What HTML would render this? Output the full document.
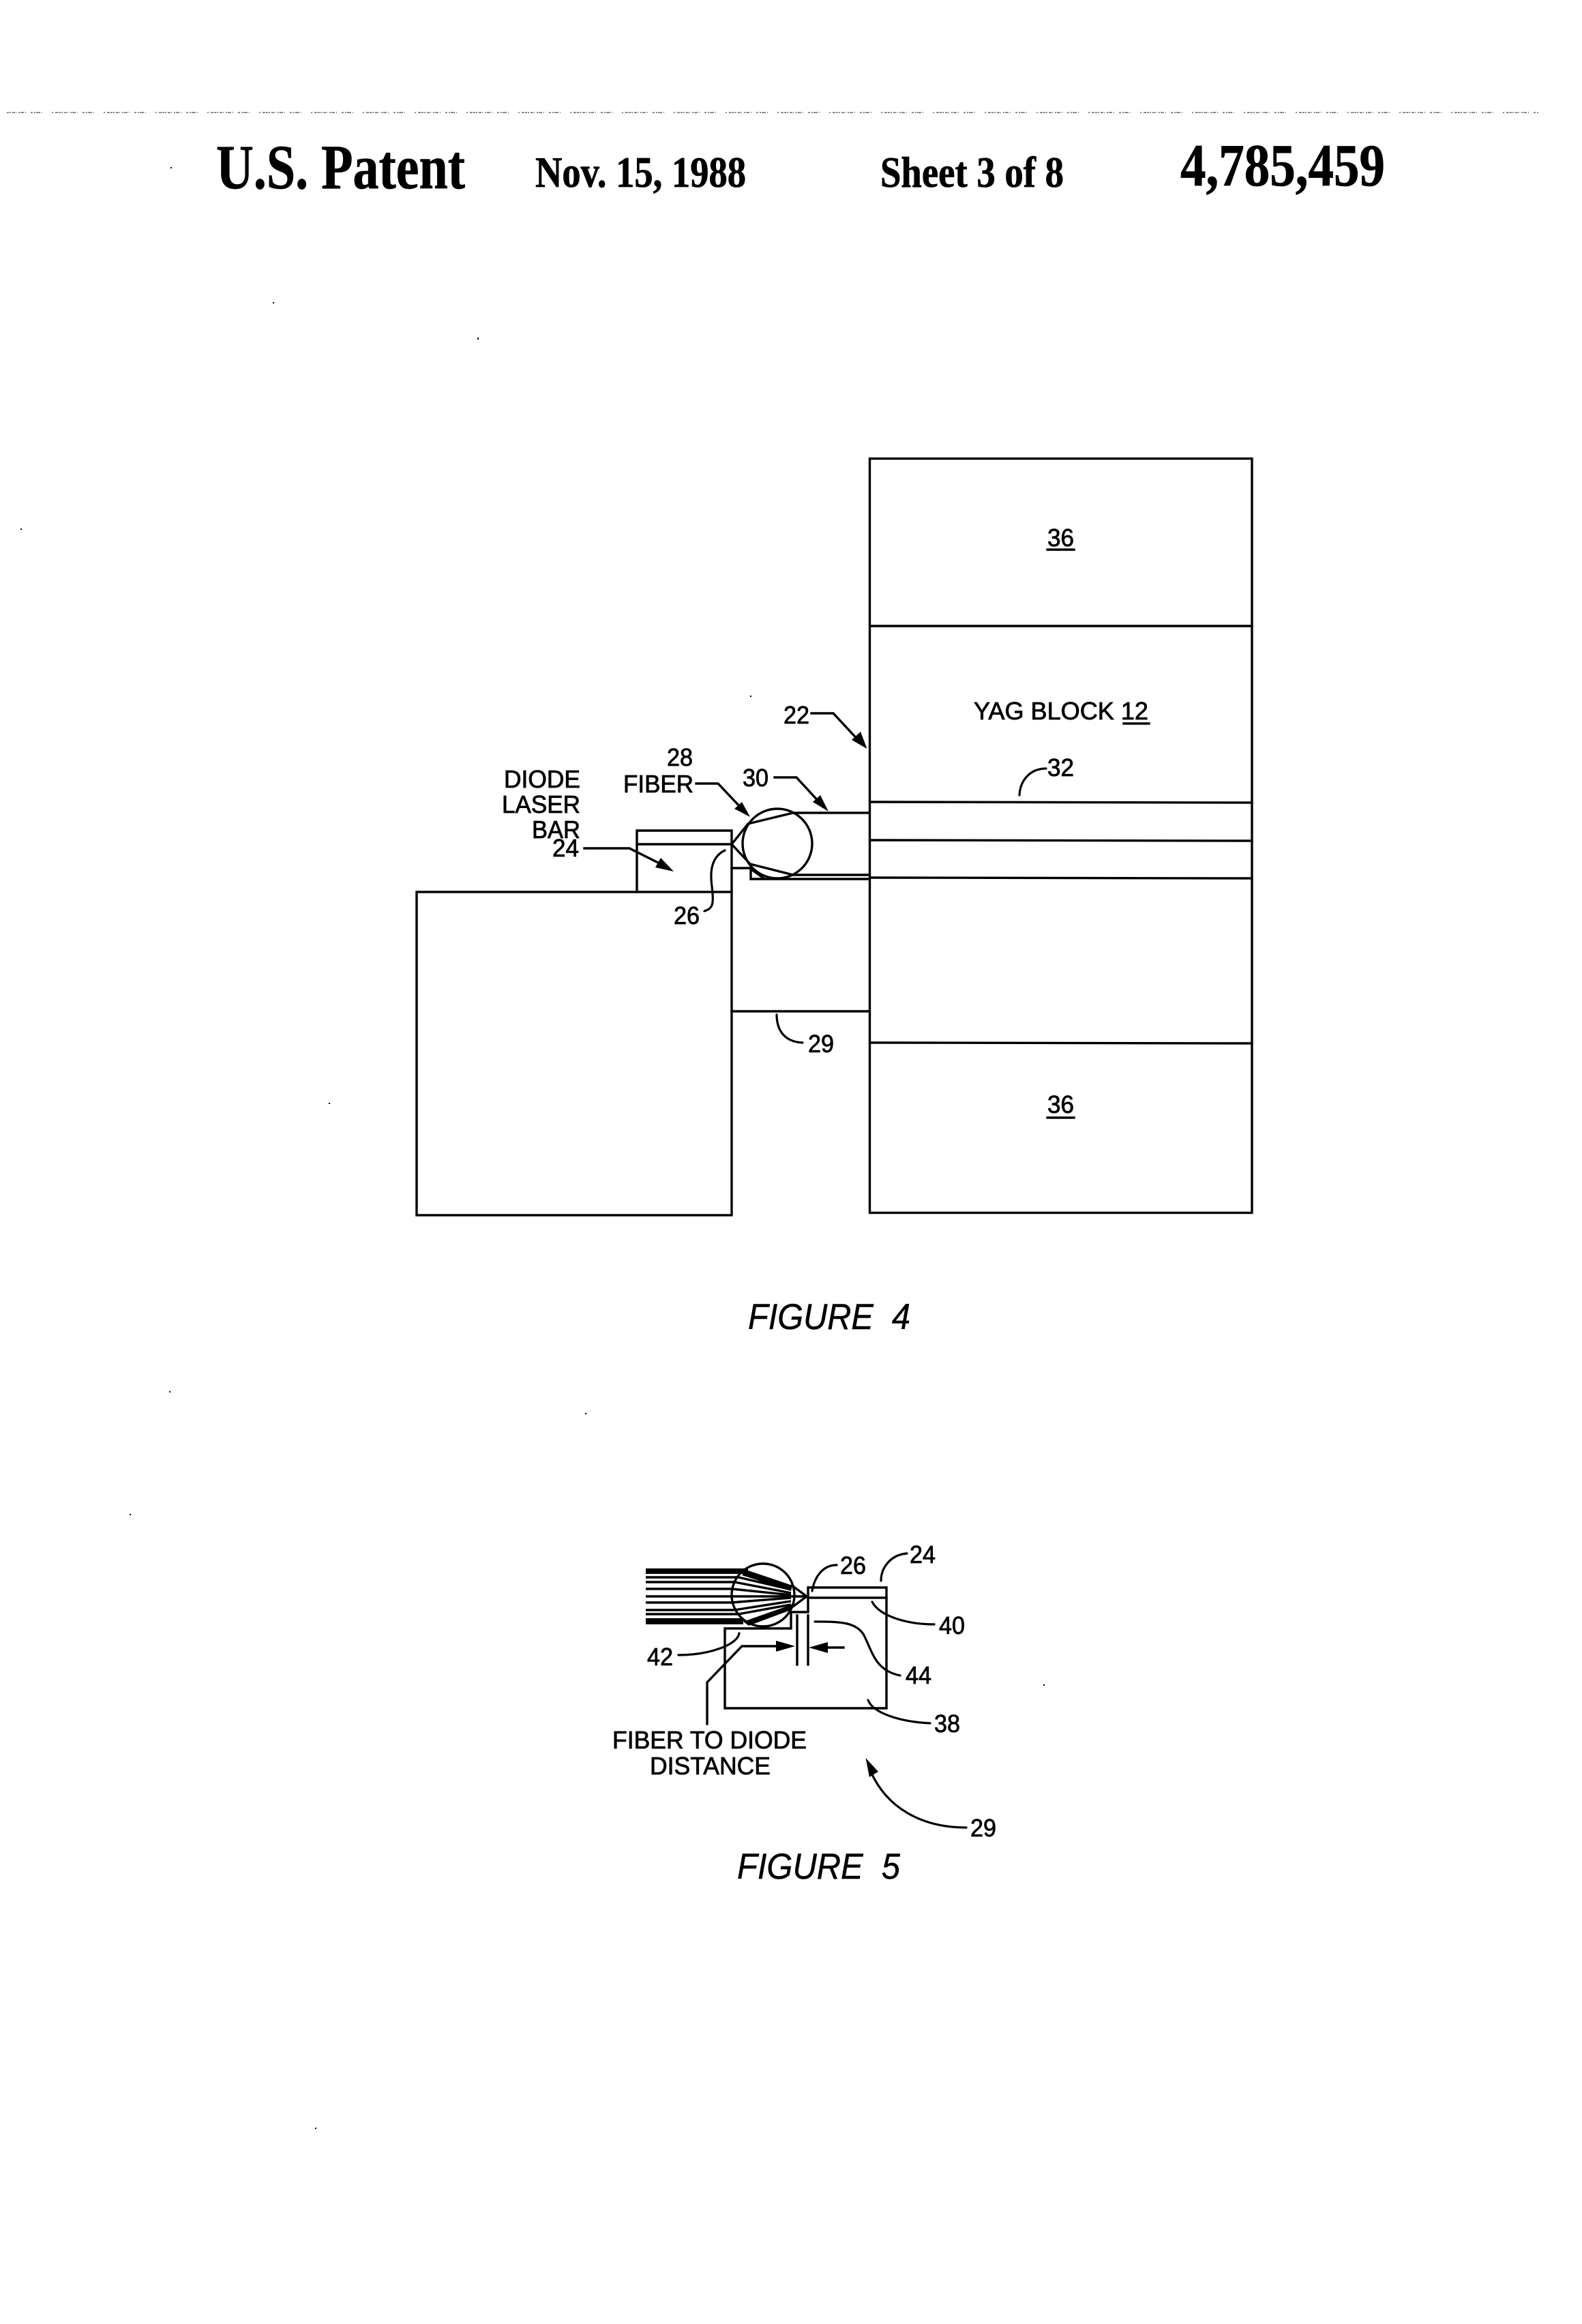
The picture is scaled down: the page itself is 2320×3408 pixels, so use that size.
<!DOCTYPE html>
<html><head><meta charset="utf-8">
<style>
html,body{margin:0;padding:0;background:#fff;width:2320px;height:3408px;overflow:hidden}
svg{display:block}
.s{font-family:"Liberation Sans",sans-serif;font-size:36px;fill:#000;stroke:#000;stroke-width:.8px}
.t{font-family:"Liberation Serif",serif;font-weight:bold;fill:#000;stroke:#000;stroke-width:.8px}
.i{font-family:"Liberation Sans",sans-serif;font-style:italic;font-size:53px;fill:#000;stroke:#000;stroke-width:.5px}
.l{fill:none;stroke:#000;stroke-width:3.4;stroke-linecap:square}
.c{fill:none;stroke:#000;stroke-width:3.2;stroke-linecap:round}
.a{fill:#000;stroke:none}
</style></head><body>
<svg width="2320" height="3408" viewBox="0 0 2320 3408" xmlns="http://www.w3.org/2000/svg">
<rect width="2320" height="3408" fill="#fff"/>
<!-- scan line -->
<line x1="10" y1="165" x2="2256" y2="165" stroke="#000" stroke-width="1.4" stroke-dasharray="3 1 2 2 4 1 1 3 2 1 5 2 1 7 3 2 2 1 6 2 1 14 2 3 4 1" opacity=".6"/>
<!-- header -->
<text class="t" x="317" y="276" font-size="92" textLength="365" lengthAdjust="spacingAndGlyphs">U.S. Patent</text>
<text class="t" x="785" y="274" font-size="64" textLength="309" lengthAdjust="spacingAndGlyphs">Nov. 15, 1988</text>
<text class="t" x="1291" y="274" font-size="64" textLength="269" lengthAdjust="spacingAndGlyphs">Sheet 3 of 8</text>
<text class="t" x="1731" y="272" font-size="88" textLength="300" lengthAdjust="spacingAndGlyphs">4,785,459</text>

<!-- FIGURE 4 -->
<g class="l">
<rect x="1275.5" y="672.5" width="560.5" height="1106"/>
<line x1="1276" y1="918" x2="1836" y2="918"/>
<line x1="1276" y1="1176" x2="1836" y2="1177"/>
<line x1="1276" y1="1232" x2="1836" y2="1233"/>
<line x1="1276" y1="1287" x2="1836" y2="1288"/>
<line x1="1276" y1="1529" x2="1836" y2="1530"/>
<rect x="611" y="1308" width="462" height="474"/>
<polyline points="934,1308 934,1218 1073,1218 1073,1308"/>
<line x1="934" y1="1238" x2="1073" y2="1238"/>
<line x1="1073" y1="1483" x2="1275" y2="1483"/>
<line x1="1163" y1="1192" x2="1275" y2="1192"/>
<line x1="1163" y1="1283" x2="1275" y2="1283"/>
<polyline points="1073,1273 1101,1273 1101,1289 1275,1289"/>
<circle cx="1140" cy="1237" r="51"/>
<polyline points="1073,1238 1097,1208 1163,1192"/>
<polyline points="1073,1238 1100,1267 1163,1283"/>
<line x1="1102" y1="1275" x2="1120" y2="1288"/>
</g>
<!-- leader arrows fig 4 -->
<polyline class="l" points="1190,1046 1222,1046 1262,1089"/>
<polygon class="a" points="1271.5,1098 1249,1085 1262,1073"/>
<polyline class="l" points="1021,1149 1053,1149 1088,1186"/>
<polygon class="a" points="1100,1198 1077,1186 1088,1176"/>
<polyline class="l" points="1136,1140 1168,1140 1203,1178"/>
<polygon class="a" points="1215,1190 1192,1176 1203,1166"/>
<polyline class="l" points="857,1244 923,1244 975,1270"/>
<polygon class="a" points="988,1278 961,1272 969,1258"/>
<path class="c" d="M1063,1247 C1040,1258 1042,1285 1044,1300 C1047,1325 1046,1332 1033,1336"/>
<path class="c" d="M1139,1488 C1139,1510 1150,1528 1177,1529"/>
<path class="c" d="M1534,1127 C1510,1127 1496,1145 1495,1166"/>

<g class="s">
<text x="1149" y="1061" textLength="38" lengthAdjust="spacingAndGlyphs">22</text>
<text x="978" y="1123" textLength="38" lengthAdjust="spacingAndGlyphs">28</text>
<text x="914" y="1162" textLength="103" lengthAdjust="spacingAndGlyphs">FIBER</text>
<text x="1089" y="1153" textLength="38" lengthAdjust="spacingAndGlyphs">30</text>
<text x="739" y="1155" textLength="112" lengthAdjust="spacingAndGlyphs">DIODE</text>
<text x="736" y="1192" textLength="115" lengthAdjust="spacingAndGlyphs">LASER</text>
<text x="780" y="1229" textLength="71" lengthAdjust="spacingAndGlyphs">BAR</text>
<text x="810" y="1256" textLength="39" lengthAdjust="spacingAndGlyphs">24</text>
<text x="988" y="1355" textLength="38" lengthAdjust="spacingAndGlyphs">26</text>
<text x="1185" y="1543" textLength="38" lengthAdjust="spacingAndGlyphs">29</text>
<text x="1428" y="1055" textLength="256" lengthAdjust="spacingAndGlyphs">YAG BLOCK 12</text>
<text x="1536" y="1138" textLength="39" lengthAdjust="spacingAndGlyphs">32</text>
<text x="1536" y="801" textLength="39" lengthAdjust="spacingAndGlyphs">36</text>
<text x="1536" y="1632" textLength="39" lengthAdjust="spacingAndGlyphs">36</text>
</g>
<g class="l">
<line x1="1648" y1="1061" x2="1685" y2="1061"/>
<line x1="1536" y1="806" x2="1575" y2="806"/>
<line x1="1536" y1="1639" x2="1575" y2="1639"/>
</g>
<text class="i" x="1097" y="1949" textLength="238" lengthAdjust="spacingAndGlyphs">FIGURE&#160;&#160;4</text>

<!-- FIGURE 5 -->
<g class="l">
<polyline points="1185,2343 1185,2328 1300,2328 1300,2505 1063,2505 1063,2388 1160,2388 1160,2364 1185,2364 1185,2343"/>
<line x1="1185" y1="2343" x2="1300" y2="2343"/>
<line x1="1169" y1="2369" x2="1169" y2="2441"/>
<line x1="1185" y1="2369" x2="1185" y2="2441"/>
</g>
<circle class="l" cx="1119" cy="2339" r="46"/>
<!-- beams -->
<g stroke="#000" stroke-width="3.4" fill="none">
<rect x="947" y="2300" width="150" height="8" fill="#000" stroke="none"/>
<rect x="947" y="2373" width="143" height="9" fill="#000" stroke="none"/>
<line x1="947" y1="2313" x2="1083" y2="2313"/>
<line x1="947" y1="2320" x2="1077" y2="2320"/>
<line x1="947" y1="2330" x2="1073" y2="2330"/>
<line x1="947" y1="2341" x2="1183" y2="2341"/>
<line x1="947" y1="2350" x2="1073" y2="2350"/>
<line x1="947" y1="2361" x2="1077" y2="2361"/>
<line x1="947" y1="2367" x2="1083" y2="2367"/>
<line x1="1083" y1="2313" x2="1160" y2="2331"/>
<line x1="1077" y1="2320" x2="1160" y2="2336"/>
<line x1="1073" y1="2330" x2="1160" y2="2339"/>
<line x1="1073" y1="2350" x2="1160" y2="2343"/>
<line x1="1077" y1="2361" x2="1160" y2="2348"/>
<line x1="1083" y1="2367" x2="1160" y2="2353"/>
<line x1="1160" y1="2324" x2="1183" y2="2341"/>
<line x1="1183" y1="2341" x2="1160" y2="2358"/>
</g>
<polygon class="a" points="1094,2302 1162,2325 1160,2333 1088,2310"/>
<polygon class="a" points="1090,2378 1161,2353 1160,2361 1098,2384"/>
<!-- fig 5 leaders -->
<polyline class="l" points="1037,2528 1037,2467 1088,2414 1145,2414"/>
<polygon class="a" points="1166,2414 1138,2406 1138,2422"/>
<line class="l" x1="1237" y1="2416" x2="1205" y2="2416"/>
<polygon class="a" points="1186,2416 1214,2408 1214,2424"/>
<path class="c" d="M1227,2295 C1205,2295 1194,2315 1191,2333"/>
<path class="c" d="M1330,2278 C1305,2280 1292,2300 1292,2318"/>
<path class="c" d="M1279,2349 C1290,2370 1330,2382 1370,2382"/>
<path class="c" d="M1195,2378 C1230,2378 1258,2378 1268,2400 C1280,2425 1285,2450 1320,2457"/>
<path class="c" d="M1273,2493 C1280,2512 1320,2525 1364,2527"/>
<path class="c" d="M995,2427 C1040,2427 1082,2412 1084,2395"/>
<path class="c" d="M1277,2598 C1300,2650 1350,2680 1417,2680"/>
<polygon class="a" points="1269.5,2578 1288,2598 1275,2606"/>
<g class="s">
<text x="1232" y="2308" textLength="38" lengthAdjust="spacingAndGlyphs">26</text>
<text x="1334" y="2292" textLength="38" lengthAdjust="spacingAndGlyphs">24</text>
<text x="1377" y="2396" textLength="38" lengthAdjust="spacingAndGlyphs">40</text>
<text x="1328" y="2469" textLength="38" lengthAdjust="spacingAndGlyphs">44</text>
<text x="1370" y="2540" textLength="38" lengthAdjust="spacingAndGlyphs">38</text>
<text x="949" y="2442" textLength="38" lengthAdjust="spacingAndGlyphs">42</text>
<text x="898" y="2564" textLength="285" lengthAdjust="spacingAndGlyphs">FIBER TO DIODE</text>
<text x="953" y="2602" textLength="177" lengthAdjust="spacingAndGlyphs">DISTANCE</text>
<text x="1423" y="2693" textLength="38" lengthAdjust="spacingAndGlyphs">29</text>
</g>
<text class="i" x="1081" y="2755" textLength="239" lengthAdjust="spacingAndGlyphs">FIGURE&#160;&#160;5</text>
<!-- specks -->
<g fill="#000">
<rect x="400" y="443" width="2" height="2"/><rect x="700" y="495" width="2" height="3"/><rect x="30" y="775" width="2" height="2"/>
<rect x="482" y="1617" width="2" height="2"/><rect x="858" y="2072" width="2" height="2"/><rect x="248" y="2040" width="2" height="2"/>
<rect x="190" y="2220" width="2" height="2"/><rect x="462" y="3120" width="2" height="2"/><rect x="1530" y="2470" width="2" height="2"/>
<rect x="1100" y="1020" width="2" height="2"/><rect x="250" y="245" width="2" height="2"/>
</g>
</svg>
</body></html>
